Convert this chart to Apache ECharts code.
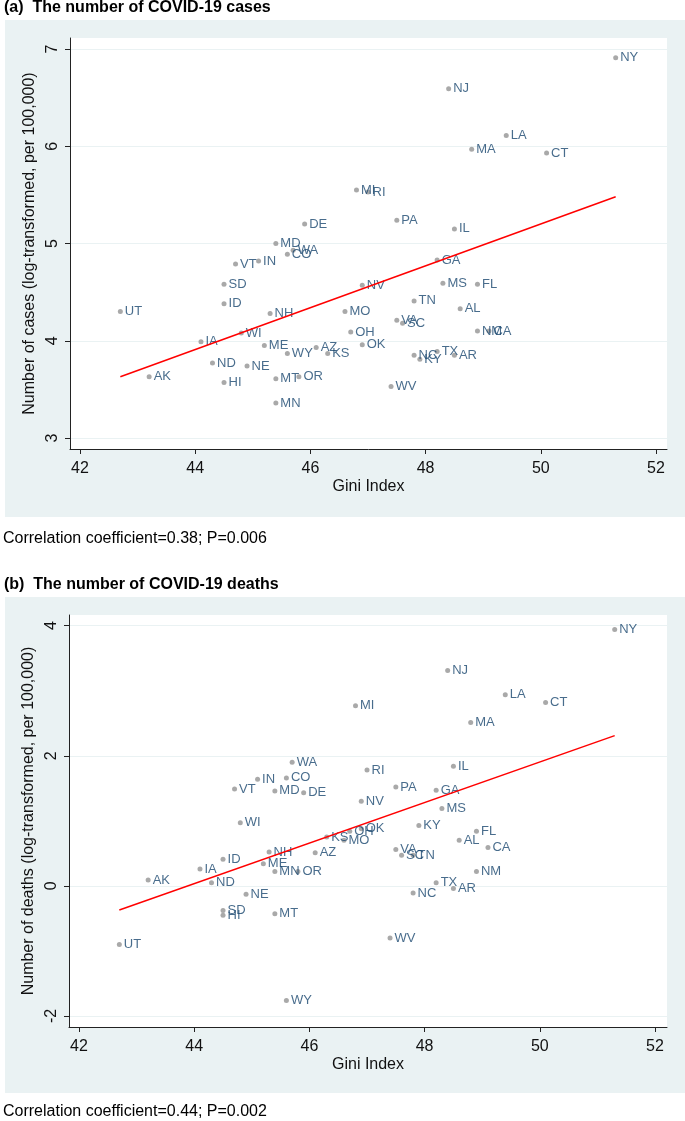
<!DOCTYPE html>
<html>
<head>
<meta charset="utf-8">
<script src="https://cdn.jsdelivr.net/npm/echarts@6/dist/echarts.min.js"></script>
<style>
  html, body { margin: 0; padding: 0; background: #fff; }
  #chart { width: 685px; height: 1121px; }
</style>
</head>
<body>
<div id="chart"></div>
<script>
// state abbreviations and Gini index (same x for both panels)
var states = ['UT','AK','IA','ND','HI','SD','ID','VT','IN','WI',
              'NE','ME','NH','MD','MT','MN','CO','WA','WY','DE',
              'OR','AZ','KS','MO','OH','PA','IL','GA','NV','MS',
              'FL','TN','AL','VA','SC','NM','CA','OK','NC','KY',
              'TX','AR','WV','NY','NJ','LA','MA','CT','MI','RI'];
var giniIndex = [42.7,43.2,44.1,44.3,44.5,44.5,44.5,44.7,45.1,44.8,
                 44.9,45.2,45.3,45.4,45.4,45.4,45.6,45.7,45.6,45.9,
                 45.8,46.1,46.3,46.6,46.7,47.5,48.5,48.2,46.9,48.3,
                 48.9,47.8,48.6,47.5,47.6,48.9,49.1,46.9,47.8,47.9,
                 48.2,48.5,47.4,51.3,48.4,49.4,48.8,50.1,46.8,47.0];
// (a) log-transformed cases per 100,000
var logCases = [4.30,3.63,3.99,3.77,3.57,4.58,4.38,4.79,4.82,4.08,
                3.74,3.95,4.28,5.00,3.61,3.36,4.89,4.93,3.87,5.20,
                3.63,3.93,3.87,4.30,4.09,5.24,5.15,4.83,4.57,4.59,
                4.58,4.41,4.33,4.21,4.18,4.10,4.10,3.96,3.85,3.81,
                3.89,3.85,3.53,6.91,6.59,6.11,5.97,5.93,5.55,5.53];
// (b) log-transformed deaths per 100,000
var logDeaths = [-0.90,0.09,0.26,0.05,-0.45,-0.38,0.41,1.49,1.64,0.97,
                 -0.13,0.34,0.52,1.46,-0.43,0.22,1.66,1.90,-1.76,1.43,
                 0.22,0.51,0.75,0.70,0.84,1.52,1.84,1.47,1.30,1.19,
                 0.84,0.47,0.70,0.56,0.47,0.22,0.59,0.88,-0.11,0.93,
                 0.05,-0.04,-0.80,3.94,3.31,2.94,2.51,2.82,2.77,1.78];
// fitted line end points
var fitX = [42.7, 51.3];
var fitCases = [3.63, 5.48];
var fitDeaths = [-0.37, 2.31];
// tick labels
var xTicks = [42, 44, 46, 48, 50, 52];
var yTicksCases = [3, 4, 5, 6, 7];
var yTicksDeaths = [-2, 0, 2, 4];

var FONT = 'Liberation Sans, Arial, sans-serif';
var BG = '#EAF2F3';

function points(ys) {
    return states.map(function (s, i) {
        return { name: s, value: [giniIndex[i], ys[i]] };
    });
}
function fitLine(ys) {
    return fitX.map(function (x, i) { return [x, ys[i]]; });
}

function xAxisOpt(idx, max) {
    return {
        type: 'value', gridIndex: idx, min: 41.826, max: max,
        name: 'Gini Index', nameLocation: 'middle', nameGap: 30,
        nameTextStyle: { fontFamily: FONT, fontSize: 16, color: '#111' },
        axisLine: { show: true, onZero: false, lineStyle: { color: '#222', width: 1 } },
        axisTick: { show: true, length: 5, customValues: xTicks, lineStyle: { color: '#222' } },
        axisLabel: { customValues: xTicks, margin: 12, fontFamily: FONT, fontSize: 16, color: '#111' },
        splitLine: { show: false }
    };
}
function yAxisOpt(idx, min, max, ticks, title) {
    return {
        type: 'value', gridIndex: idx, min: min, max: max,
        name: title, nameLocation: 'middle', nameGap: 28,
        nameTextStyle: { fontFamily: FONT, fontSize: 16, color: '#111' },
        axisLine: { show: true, onZero: false, lineStyle: { color: '#222', width: 1 } },
        axisTick: { show: true, length: 5, customValues: ticks, lineStyle: { color: '#222' } },
        axisLabel: { customValues: ticks, rotate: 90, margin: 9, fontFamily: FONT, fontSize: 16, color: '#111' },
        splitLine: { show: true, lineStyle: { color: BG, width: 1.2 } }
    };
}
function scatter(idx, ys) {
    return {
        type: 'scatter', xAxisIndex: idx, yAxisIndex: idx,
        data: points(ys), symbolSize: 5,
        itemStyle: { color: '#939393' },
        label: {
            show: true, position: 'right', distance: 2, formatter: '{b}',
            fontFamily: FONT, fontSize: 13, color: '#1a476f'
        },
        emphasis: { disabled: true }
    };
}
function fit(idx, ys) {
    return {
        type: 'line', xAxisIndex: idx, yAxisIndex: idx,
        data: fitLine(ys), symbol: 'none', silent: true,
        lineStyle: { color: '#ff0000', width: 1.5 }
    };
}

var chart = echarts.init(document.getElementById('chart'));
chart.setOption({
    animation: false,
    backgroundColor: '#fff',
    graphic: [
        { type: 'rect', shape: { x: 5, y: 20, width: 680, height: 497 }, style: { fill: BG }, z: -10 },
        { type: 'rect', shape: { x: 5, y: 597, width: 680, height: 496 }, style: { fill: BG }, z: -10 },
        { type: 'text', x: 4, y: 8, style: { text: '(a)  The number of COVID-19 cases', font: 'bold 16px ' + FONT, fill: '#000', verticalAlign: 'middle' } },
        { type: 'text', x: 4, y: 585, style: { text: '(b)  The number of COVID-19 deaths', font: 'bold 16px ' + FONT, fill: '#000', verticalAlign: 'middle' } },
        { type: 'text', x: 3, y: 539, style: { text: 'Correlation coefficient=0.38; P=0.006', font: '16px ' + FONT, fill: '#000', verticalAlign: 'middle' } },
        { type: 'text', x: 3, y: 1112, style: { text: 'Correlation coefficient=0.44; P=0.002', font: '16px ' + FONT, fill: '#000', verticalAlign: 'middle' } }
    ],
    grid: [
        { left: 70, top: 38, width: 597, height: 411, show: true, backgroundColor: '#fff', borderWidth: 0 },
        { left: 69, top: 615, width: 598, height: 412, show: true, backgroundColor: '#fff', borderWidth: 0 }
    ],
    xAxis: [xAxisOpt(0, 52.191), xAxisOpt(1, 52.208)],
    yAxis: [
        yAxisOpt(0, 2.887, 7.113, yTicksCases, 'Number of cases (log-transformed, per 100,000)'),
        yAxisOpt(1, -2.169, 4.164, yTicksDeaths, 'Number of deaths (log-transformed, per 100,000)')
    ],
    series: [scatter(0, logCases), fit(0, fitCases), scatter(1, logDeaths), fit(1, fitDeaths)]
});
</script>
</body>
</html>
